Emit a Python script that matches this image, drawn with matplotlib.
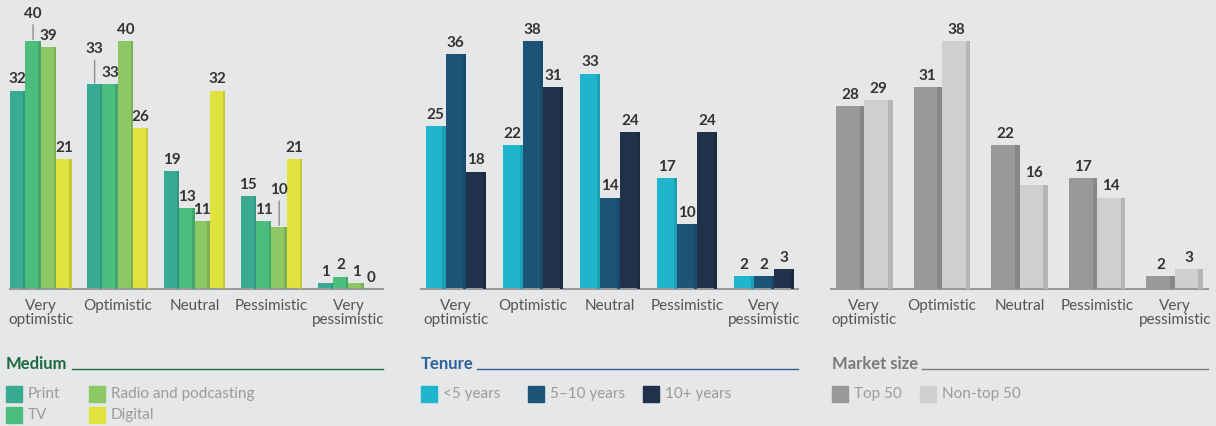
import matplotlib.pyplot as plt
import matplotlib.colors as mcolors
from matplotlib.patches import Rectangle
import numpy as np

plt.rcParams['font.family'] = ['Lato', 'DejaVu Sans']

categories = ["Very\noptimistic", "Optimistic", "Neutral", "Pessimistic", "Very\npessimistic"]

medium_names = ["Print", "TV", "Radio and podcasting", "Digital"]
print_vals = [32, 33, 19, 15, 1]
tv_vals = [40, 33, 13, 11, 2]
radio_vals = [39, 40, 11, 10, 1]
digital_vals = [21, 26, 32, 21, 0]

tenure_names = ["<5 years", "5–10 years", "10+ years"]
under5_vals = [25, 22, 33, 17, 2]
mid_vals = [36, 38, 14, 10, 2]
over10_vals = [18, 31, 24, 24, 3]

market_names = ["Top 50", "Non-top 50"]
top50_vals = [28, 31, 22, 17, 2]
nontop_vals = [29, 38, 16, 14, 3]

BG = "#e6e7e9"
W, H = 1216, 426
BASE = 289   # baseline pixel row
TOP = 41     # pixel row of the tallest bar in each panel


def darker(c, f=0.88):
    r, g, b = mcolors.to_rgb(c)
    return (r * f, g * f, b * f)


def draw_panel(fig, x0, x1, xlim, series, colors, width, raised=None):
    ax = fig.add_axes([x0 / W, (H - BASE) / H, (x1 - x0) / W, BASE / H])
    ax.set_facecolor("none")
    vmax = max(max(s) for s in series)
    ymax = vmax * BASE / (BASE - TOP)
    n = len(series)
    x = np.arange(len(categories))
    for i, (vals, col) in enumerate(zip(series, colors)):
        pos = x + (i - (n - 1) / 2) * width
        ax.bar(pos, vals, width=width, color=col, zorder=2)
        sw = width * 0.16
        ax.bar(pos + width / 2 - sw / 2, vals, width=sw, color=darker(col), zorder=3)
        for j, v in enumerate(vals):
            if raised and (i, j) in raised:
                ax.annotate(str(v), xy=(pos[j], v + 0.25), xytext=(pos[j], raised[(i, j)]),
                            textcoords="data", ha="center", va="center",
                            fontsize=11, fontweight="bold", color="#333333",
                            arrowprops=dict(arrowstyle="-", color="#8c8c8c", lw=1,
                                            shrinkA=1, shrinkB=0))
            else:
                ax.annotate(str(v), xy=(pos[j], v), xytext=(0, 3), textcoords="offset points",
                            ha="center", va="bottom", fontsize=11, fontweight="bold",
                            color="#333333")
    ax.set_xlim(*xlim)
    ax.set_ylim(0, ymax)
    ax.set_xticks(x)
    ax.set_xticklabels(categories, fontsize=11, color="#555555", linespacing=1.0)
    ax.tick_params(axis="x", length=0, pad=7)
    ax.set_yticks([])
    for s in ["top", "left", "right"]:
        ax.spines[s].set_visible(False)
    ax.spines["bottom"].set_color("#9a9a9a")
    ax.spines["bottom"].set_linewidth(1.5)
    return ax


fig = plt.figure(figsize=(12.16, 4.26), dpi=100)
fig.patch.set_facecolor(BG)

medium_colors = ["#3aab93", "#4bbd7c", "#8cc863", "#e0e33e"]
tenure_colors = ["#1fb6cd", "#1c5478", "#1f3249"]
market_colors = ["#9a9899", "#d0cfd0"]

draw_panel(fig, 10, 383, (-0.40, 4.45),
           [print_vals, tv_vals, radio_vals, digital_vals], medium_colors, 0.2,
           raised={(1, 0): 44.4, (0, 1): 38.7, (2, 3): 16.0})
draw_panel(fig, 421, 798, (-0.45, 4.44),
           [under5_vals, mid_vals, over10_vals], tenure_colors, 0.26)
draw_panel(fig, 831, 1208, (-0.43, 4.43),
           [top50_vals, nontop_vals], market_colors, 0.364)

# legend area drawn in pixel coordinates
ov = fig.add_axes([0, 0, 1, 1])
ov.set_xlim(0, W)
ov.set_ylim(H, 0)
ov.axis("off")
ov.set_facecolor("none")


def legend_block(x0, x_line, x1, title, tcolor, names, colors, spots):
    ov.text(x0, 364, title, fontsize=12, fontweight="bold", color=tcolor,
            ha="left", va="center")
    ov.plot([x_line, x1], [369, 369], color=tcolor, lw=1)
    for name, col, (px, py) in zip(names, colors, spots):
        ov.add_patch(Rectangle((px, py), 16, 16, color=col))
        ov.text(px + 22, py + 8, name, fontsize=11, color="#9b9b9b",
                ha="left", va="center")


legend_block(6, 72, 383, "Medium", "#1d6b40", medium_names, medium_colors,
             [(6, 386), (6, 407), (89, 386), (89, 407)])
legend_block(421, 477, 798, "Tenure", "#2a6497", tenure_names, tenure_colors,
             [(421, 386), (528, 386), (643, 386)])
legend_block(832, 922, 1208, "Market size", "#7a7a7a", market_names, market_colors,
             [(832, 386), (920, 386)])

fig.savefig("out.png", dpi=100, facecolor=BG)
